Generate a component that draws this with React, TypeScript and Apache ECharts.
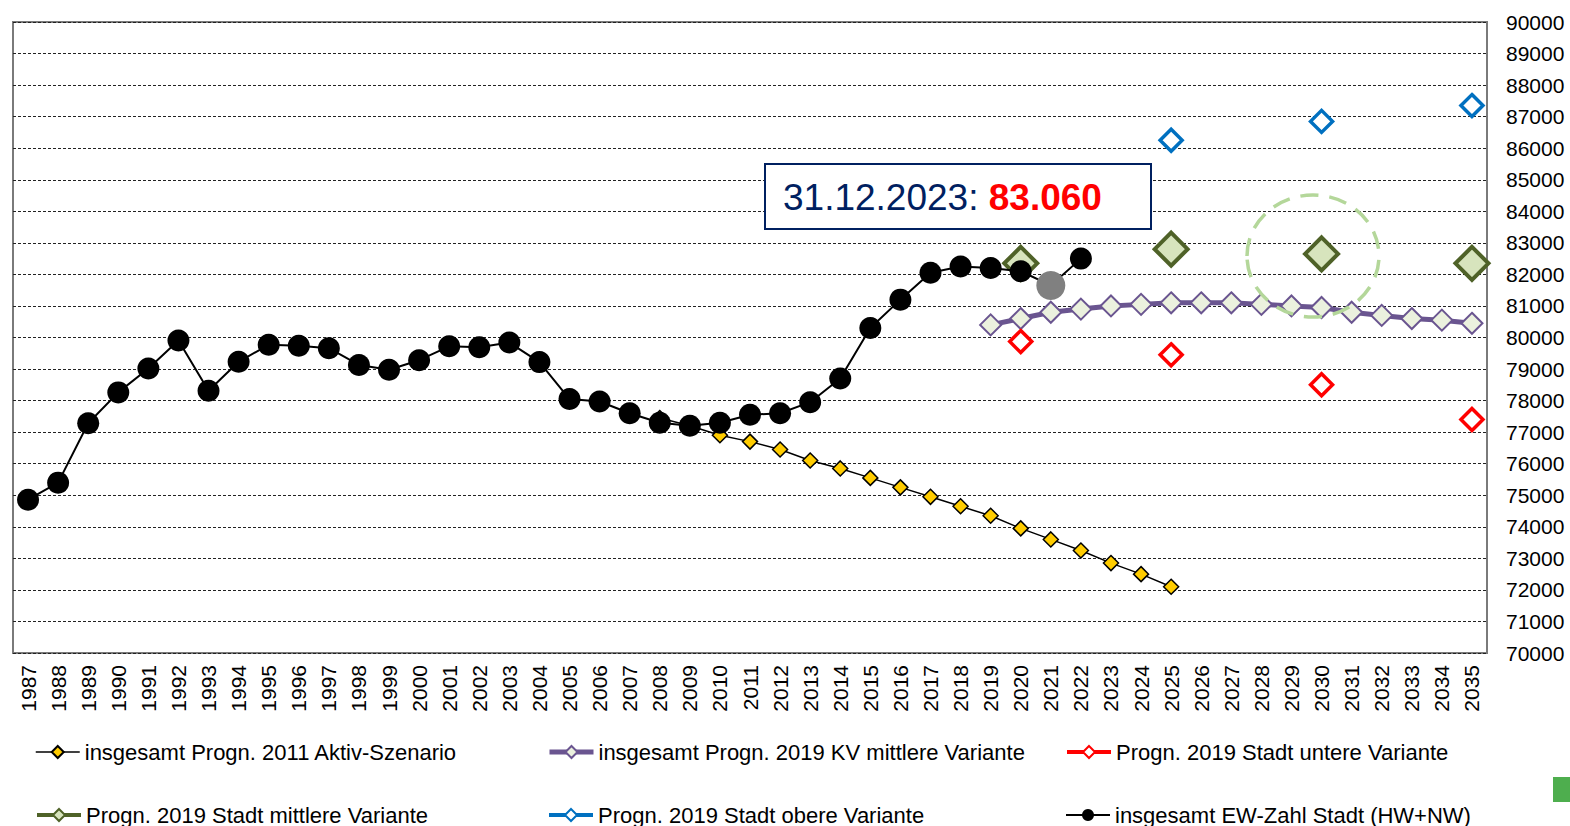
import React, { useEffect, useRef } from 'react';
import * as echarts from 'echarts';

const FONT = "'Liberation Sans', Arial, sans-serif";

const years = [
  '1987', '1988', '1989', '1990', '1991', '1992', '1993', '1994', '1995', '1996',
  '1997', '1998', '1999', '2000', '2001', '2002', '2003', '2004', '2005', '2006',
  '2007', '2008', '2009', '2010', '2011', '2012', '2013', '2014', '2015', '2016',
  '2017', '2018', '2019', '2020', '2021', '2022', '2023', '2024', '2025', '2026',
  '2027', '2028', '2029', '2030', '2031', '2032', '2033', '2034', '2035',
];

// insgesamt EW-Zahl Stadt (HW+NW), 1987–2022
const ewStart = '1987';
const ewValues = [
  74860, 75400, 77280, 78260, 79020, 79905, 78315, 79230, 79770, 79740,
  79660, 79130, 78980, 79280, 79720, 79690, 79840, 79220, 78050, 77970,
  77600, 77300, 77200, 77300, 77550, 77600, 77950, 78700, 80300, 81200,
  82050, 82250, 82200, 82100, 81650, 82500,
];
const ewGreyYear = '2021';

// insgesamt Progn. 2011 Aktiv-Szenario, 2008–2025
const aktivStart = '2008';
const aktivValues = [
  77450, 77200, 76900, 76700, 76450, 76100, 75850, 75550, 75250, 74950,
  74650, 74350, 73950, 73600, 73250, 72850, 72500, 72100,
];

// insgesamt Progn. 2019 KV mittlere Variante, 2019–2035
const kvStart = '2019';
const kvValues = [
  80400, 80600, 80800, 80900, 81000, 81050, 81100, 81100, 81100, 81050,
  81000, 80950, 80800, 80700, 80600, 80550, 80450,
];

// Progn. 2019 Stadt – Varianten
const untereYears = ['2020', '2025', '2030', '2035'];
const untereValues = [79870, 79450, 78500, 77400];
const mittlereYears = ['2020', '2025', '2030', '2035'];
const mittlereValues = [82350, 82800, 82650, 82350];
const obereYears = ['2025', '2030', '2035'];
const obereValues = [86250, 86850, 87350];

const yTicks = { min: 70000, max: 90000, interval: 1000 };

const names = {
  aktiv: 'insgesamt Progn. 2011 Aktiv-Szenario',
  kv: 'insgesamt Progn. 2019 KV mittlere Variante',
  untere: 'Progn. 2019 Stadt untere Variante',
  mittlere: 'Progn. 2019 Stadt mittlere Variante',
  obere: 'Progn. 2019 Stadt obere Variante',
  ew: 'insgesamt EW-Zahl Stadt (HW+NW)',
};

function fromStart(start: string, values: number[]) {
  const arr: (number | null)[] = years.map(() => null);
  const i0 = years.indexOf(start);
  values.forEach((v, k) => { arr[i0 + k] = v; });
  return arr;
}
function fromYears(ys: string[], values: number[]) {
  const arr: (number | null)[] = years.map(() => null);
  ys.forEach((y, k) => { arr[years.indexOf(y)] = values[k]; });
  return arr;
}

export default function App() {
  const ref = useRef<HTMLDivElement>(null);
  useEffect(() => {
    if (!ref.current) return;
    const chart = echarts.init(ref.current, null, { renderer: 'svg' });

    const ewData = fromStart(ewStart, ewValues).map((v, i) =>
      years[i] === ewGreyYear && v != null
        ? { value: v, symbolSize: 29, itemStyle: { color: '#808080' } }
        : v
    );

    const legendPos = [
      { name: names.aktiv, left: 35, top: 741 },
      { name: names.kv, left: 547, top: 741 },
      { name: names.untere, left: 1065, top: 741 },
      { name: names.mittlere, left: 35, top: 804 },
      { name: names.obere, left: 547, top: 804 },
      { name: names.ew, left: 1065, top: 804 },
    ];

    const option: any = {
      animation: false,
      backgroundColor: '#fff',
      textStyle: { fontFamily: FONT },
      grid: {
        left: 13, top: 22, right: 83, bottom: 173,
        outerBoundsMode: 'none',
        containLabel: false,
        show: true, borderColor: '#7a7a7a', borderWidth: 2, backgroundColor: 'transparent',
      },
      legend: legendPos.map((l) => ({
        data: [l.name],
        left: l.left,
        top: l.top,
        padding: 0,
        itemWidth: 44,
        itemHeight: 15,
        selectedMode: false,
        lineStyle: { width: 'inherit' },
        textStyle: { fontSize: 22, color: '#000', fontFamily: FONT },
      })),
      xAxis: {
        type: 'category',
        data: years,
        boundaryGap: true,
        axisLine: { show: false },
        axisTick: { show: false },
        axisLabel: {
          interval: 0, rotate: 90, margin: 12, fontSize: 21, color: '#000', fontFamily: FONT,
        },
        splitLine: { show: false },
      },
      yAxis: {
        type: 'value',
        position: 'right',
        min: yTicks.min,
        max: yTicks.max,
        interval: yTicks.interval,
        axisLine: { show: false },
        axisTick: { show: false },
        axisLabel: {
          margin: 19, fontSize: 21, color: '#000', fontFamily: FONT,
          formatter: (v: number) => String(v),
        },
        splitLine: { show: true, lineStyle: { color: '#222', width: 1, type: [3, 2] } },
      },
      series: [
        {
          name: names.aktiv,
          type: 'line',
          data: fromStart(aktivStart, aktivValues),
          symbol: 'diamond',
          symbolSize: 15,
          showAllSymbol: true,
          lineStyle: { color: '#000', width: 1.5 },
          itemStyle: { color: '#FFCC00', borderColor: '#000', borderWidth: 1.5 },
          z: 3,
        },
        {
          name: names.kv,
          type: 'line',
          data: fromStart(kvStart, kvValues),
          symbol: 'diamond',
          symbolSize: 21,
          showAllSymbol: true,
          lineStyle: { color: '#6a5590', width: 5 },
          itemStyle: { color: '#EBF1DE', borderColor: '#6a5590', borderWidth: 2 },
          z: 3,
        },
        {
          name: names.untere,
          type: 'line',
          data: fromYears(untereYears, untereValues),
          symbol: 'diamond',
          symbolSize: 22,
          showAllSymbol: true,
          lineStyle: { color: '#FF0000', width: 4 },
          itemStyle: { color: '#fff', borderColor: '#FF0000', borderWidth: 3.5 },
          z: 3,
        },
        {
          name: names.mittlere,
          type: 'line',
          data: fromYears(mittlereYears, mittlereValues),
          symbol: 'diamond',
          symbolSize: 33,
          showAllSymbol: true,
          lineStyle: { color: '#4F6228', width: 4 },
          itemStyle: { color: '#D7E4BD', borderColor: '#4F6228', borderWidth: 4 },
          z: 3,
        },
        {
          name: names.obere,
          type: 'line',
          data: fromYears(obereYears, obereValues),
          symbol: 'diamond',
          symbolSize: 22,
          showAllSymbol: true,
          lineStyle: { color: '#0070C0', width: 4 },
          itemStyle: { color: '#fff', borderColor: '#0070C0', borderWidth: 3.5 },
          z: 3,
        },
        {
          name: names.ew,
          type: 'line',
          data: ewData,
          symbol: 'circle',
          symbolSize: 22,
          showAllSymbol: true,
          lineStyle: { color: '#000', width: 2 },
          itemStyle: { color: '#000' },
          z: 4,
        },
      ],
      graphic: [
        {
          type: 'rect',
          z: 100,
          shape: { x: 765, y: 164, width: 386, height: 65 },
          style: { fill: '#fff', stroke: '#002060', lineWidth: 2 },
        },
        {
          type: 'text',
          z: 101,
          x: 783,
          y: 197,
          style: {
            text: '{a|31.12.2023: }{b|83.060}',
            verticalAlign: 'middle',
            rich: {
              a: { fontSize: 37, fill: '#002060', fontFamily: FONT },
              b: { fontSize: 37, fill: '#FF0000', fontWeight: 'bold', fontFamily: FONT },
            },
          },
        },
        {
          type: 'ellipse',
          z: 100,
          shape: { cx: 1313, cy: 256, rx: 66, ry: 61 },
          style: { fill: 'none', stroke: '#B4D79A', lineWidth: 3.5, lineDash: [18, 11] },
        },
        {
          type: 'rect',
          z: 100,
          shape: { x: 1553, y: 777, width: 17, height: 25 },
          style: { fill: '#4EAE4E' },
        },
      ],
    };
    chart.setOption(option);
    return () => chart.dispose();
  }, []);
  return (
    <div
      ref={ref}
      style={{ position: 'fixed', left: 0, top: 0, width: 1570, height: 826, background: '#fff' }}
    />
  );
}
